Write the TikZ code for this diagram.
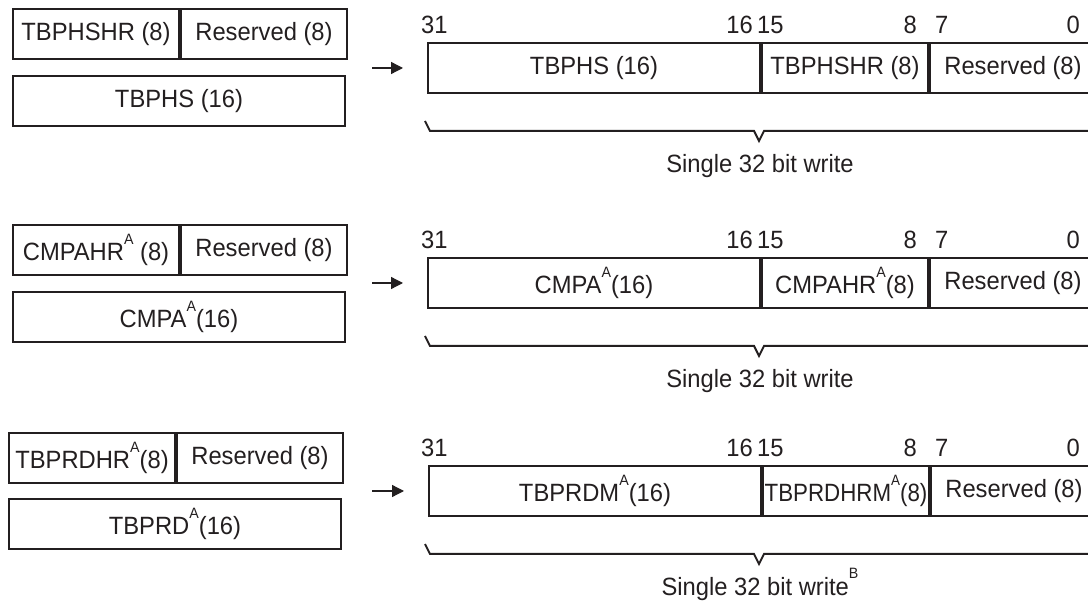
\documentclass[tikz,border=0pt]{standalone}
\usepackage{fontspec}
\setmainfont{Liberation Sans}[FakeStretch=0.95]
\usepackage{xcolor}
\usepackage{graphicx}
\usetikzlibrary{
    arrows.meta,
    positioning
}
\definecolor{ink}{HTML}{231F20}
\newcommand{\supnote}[1]{\raisebox{0.66em}{\fontsize{15}{15}\selectfont #1}}

\begin{document}
\begin{tikzpicture}[x=1pt, y=-1pt, color=ink, font=\fontsize{25}{29}\selectfont,
    reg/.style={draw, line width=2pt, minimum height=50pt, inner sep=0pt, anchor=north west},
    half/.style={reg, minimum width=166pt},
    full/.style={reg, minimum width=332pt},
    bit/.style={inner sep=0pt},
    write/.style={-{Triangle[length=12pt, width=12pt]}, line width=1.3pt, shorten <=24pt, shorten >=24pt},
    brace/.style={line width=2pt}]
    \clip (0, 0) rectangle (1088, 601);

    % TBPHS row
    \node[half] (phshr) at (12, 8) {TBPHSHR (8)};
    \node[half] (phres) at (phshr.north east) {Reserved (8)};
    \node[full] (phs) at (12, 75) {TBPHS (16)};
    \node[full] (wphs) at (427, 42) {TBPHS (16)};
    \node[half] (wphshr) at (wphs.north east) {TBPHSHR (8)};
    \node[half] (wphres) at (wphshr.north east) {Reserved (8)};
    \draw[write] (phres.south east |- wphs.west) -- (wphs.west);

    % CMPA row
    \node[half] (cahr) at (12, 224) {CMPAHR\supnote{A} (8)};
    \node[half] (cares) at (cahr.north east) {Reserved (8)};
    \node[full] (ca) at (12, 291) {CMPA\supnote{A}(16)};
    \node[full] (wca) at (427, 257) {CMPA\supnote{A}(16)};
    \node[half] (wcahr) at (wca.north east) {CMPAHR\supnote{A}(8)};
    \node[half] (wcares) at (wcahr.north east) {Reserved (8)};
    \draw[write] (cares.south east |- wca.west) -- (wca.west);

    % TBPRD row
    \node[half] (prdhr) at (8, 432) {TBPRDHR\supnote{A}(8)};
    \node[half] (prdres) at (prdhr.north east) {Reserved (8)};
    \node[full] (prd) at (8, 498) {TBPRD\supnote{A}(16)};
    \node[full] (wprd) at (428, 465) {TBPRDM\supnote{A}(16)};
    \node[half] (wprdhr) at (wprd.north east) {\scalebox{0.94}[1]{TBPRDHRM\supnote{A}(8)}};
    \node[half] (wprdres) at (wprdhr.north east) {Reserved (8)};
    \draw[write, shorten <=28pt] (prdres.south east |- wprd.west) -- (wprd.west);

    % bit numbers and braces
    \foreach \d in {0, 215, 423} {
        \foreach \t/\x/\a in {31/421/west, 16/753/east, 15/757/west, 8/917/east, 7/935/west, 0/1080/east}
            \node[bit, anchor=base \a] (bit\t-\d) at (\x, {34+\d}) {\t};
        \draw[brace] (425, {121+\d}) -- (430, {131+\d}) -- (754, {131+\d}) -- (759, {141+\d})
            -- (764, {131+\d}) -- (1090, {131+\d}) -- (1095, {121+\d});
    }
    \node[anchor=base] (sw1) at (760, 173) {Single 32 bit write};
    \node[anchor=base] (sw2) at (760, 388) {Single 32 bit write};
    \node[anchor=base] (sw3) at (760, 595) {Single 32 bit write\supnote{B}};
\end{tikzpicture}
\end{document}
